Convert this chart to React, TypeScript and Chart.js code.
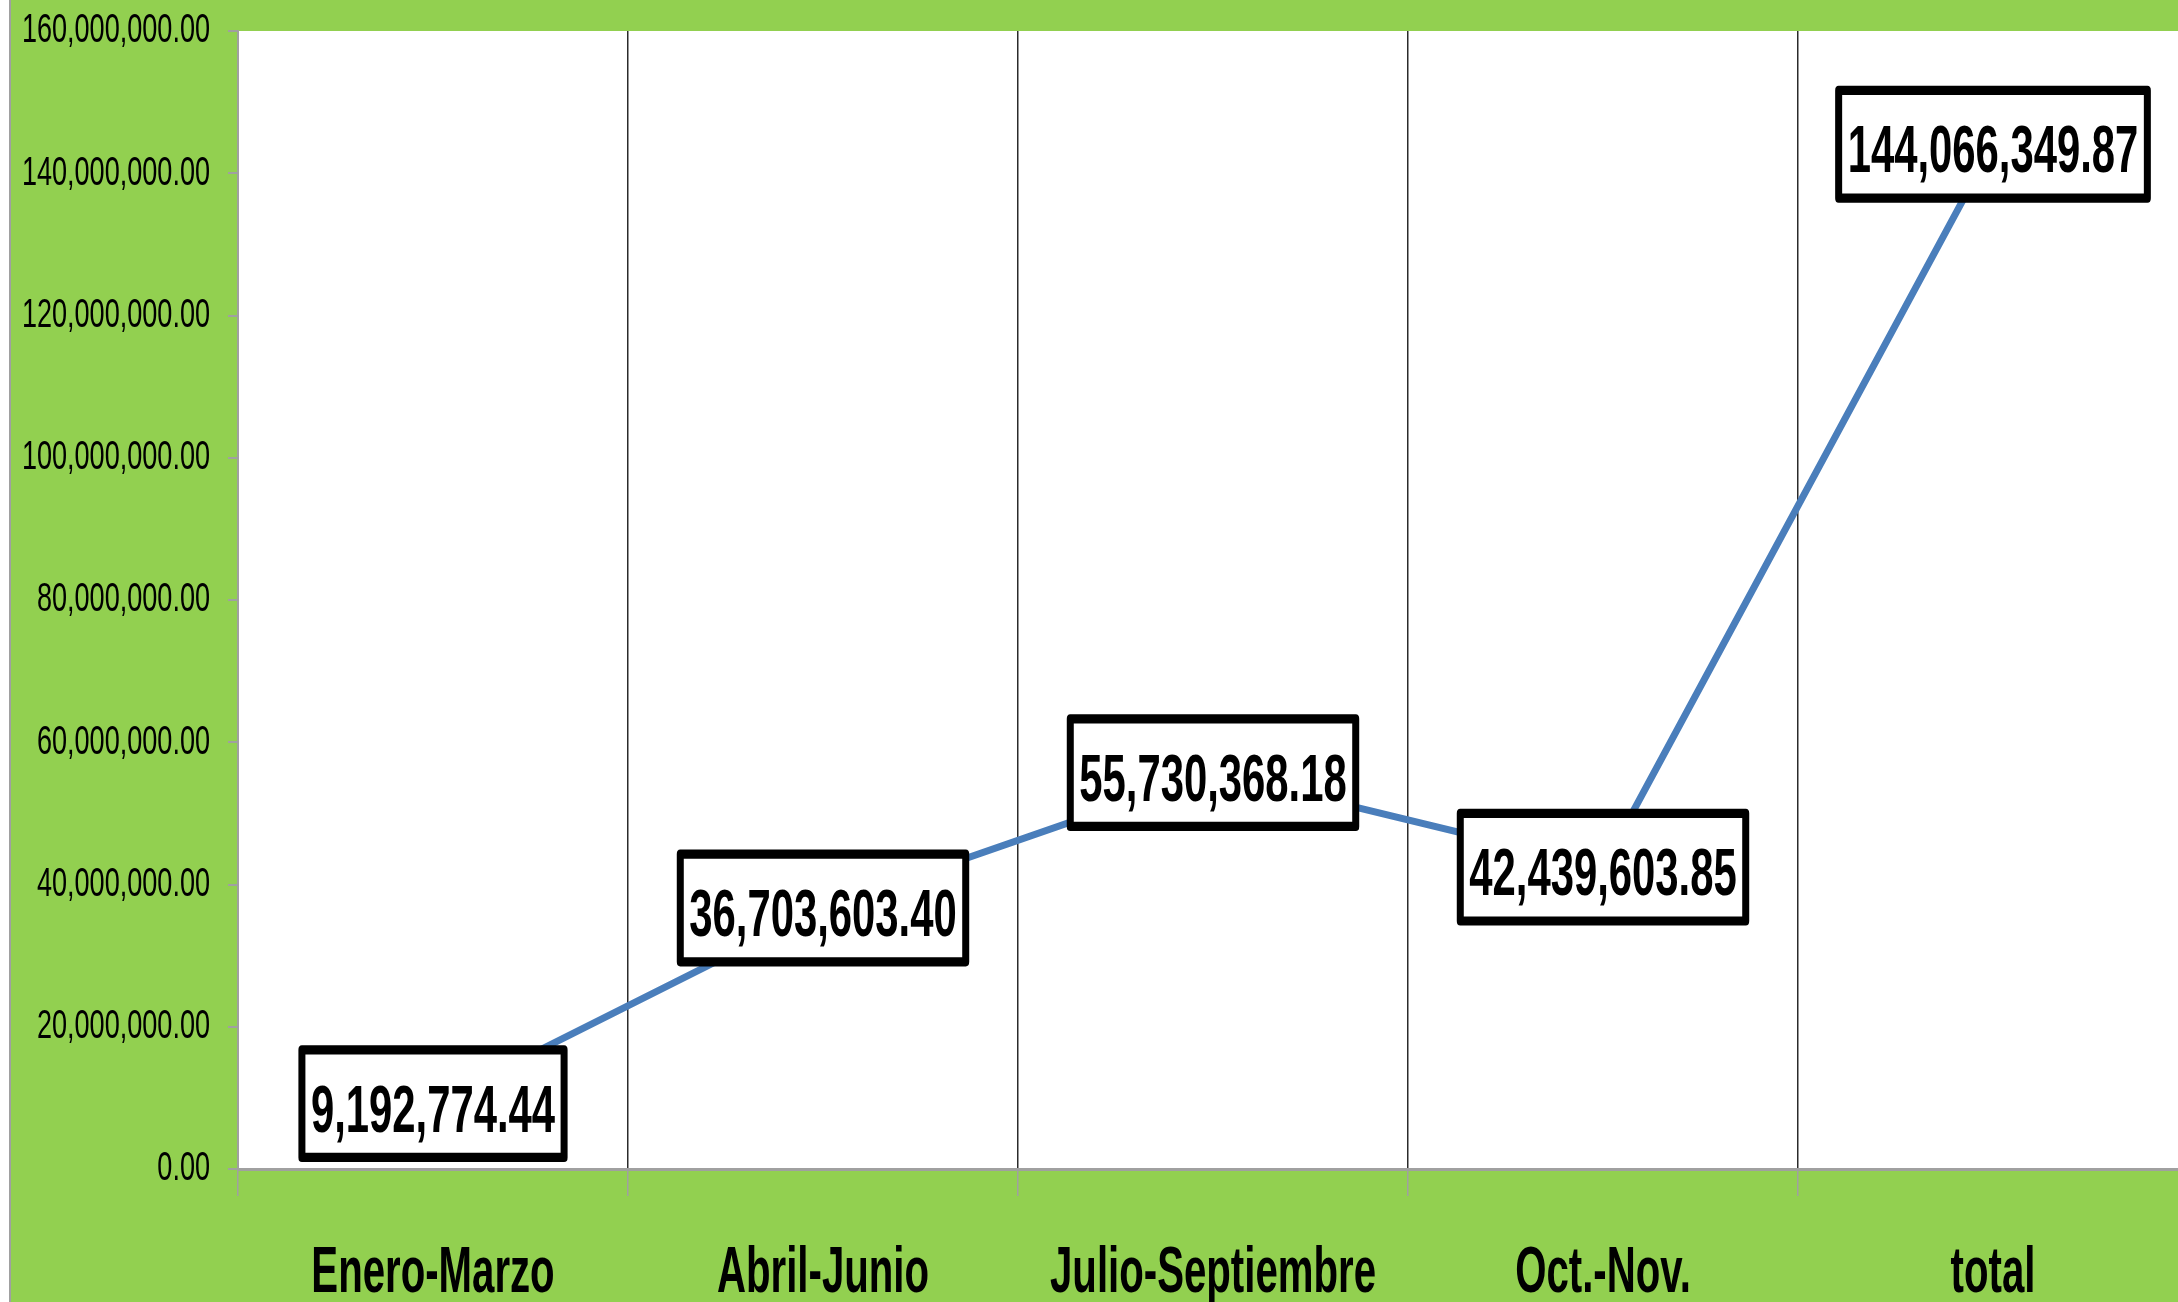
import React, { useEffect, useRef } from 'react';
import { Chart, registerables } from 'chart.js';

Chart.register(...registerables);

const categories = ['Enero-Marzo', 'Abril-Junio', 'Julio-Septiembre', 'Oct.-Nov.', 'total'];
const values = [9192774.44, 36703603.4, 55730368.18, 42439603.85, 144066349.87];
const dataLabels = ['9,192,774.44', '36,703,603.40', '55,730,368.18', '42,439,603.85', '144,066,349.87'];
const yMin = 0;
const yMax = 160000000;
const yStep = 20000000;

const FONT = "'Liberation Sans', Arial, sans-serif";
const NARROW = 0.82;
const GREEN = '#92D050';
const LINE_BLUE = '#4A7EBB';

const fmt = (v: number) =>
  v.toLocaleString('en-US', { minimumFractionDigits: 2, maximumFractionDigits: 2 });

const textPlugin = {
  id: 'stretchedText',
  beforeDraw(chart: any) {
    const { ctx, chartArea: a } = chart;
    ctx.save();
    ctx.fillStyle = '#ffffff';
    ctx.fillRect(a.left, a.top, a.right - a.left, a.bottom - a.top);
    ctx.restore();
  },
  afterDraw(chart: any) {
    const ctx = chart.ctx;
    const xs = chart.scales.x;
    const ys = chart.scales.y;
    ctx.save();
    ctx.fillStyle = '#000';
    // y tick labels
    ctx.font = `33px ${FONT}`;
    ctx.textAlign = 'right';
    ctx.textBaseline = 'middle';
    ys.ticks.forEach((t: any) => {
      const py = ys.getPixelForValue(t.value);
      ctx.save();
      ctx.translate(ys.right - 28, py);
      ctx.scale(NARROW, 1.25);
      ctx.fillText(fmt(t.value), 0, 0);
      ctx.restore();
    });
    // x tick labels
    ctx.font = `bold 49px ${FONT}`;
    ctx.textAlign = 'center';
    ctx.textBaseline = 'alphabetic';
    categories.forEach((c, i) => {
      const px = xs.getPixelForValue(i);
      ctx.save();
      ctx.translate(px, xs.top + 123);
      ctx.scale(NARROW, 1.34);
      ctx.fillText(c, 0, 0);
      ctx.restore();
    });
    // data labels
    const meta = chart.getDatasetMeta(0);
    const fs = 51;
    const k = 1.32;
    ctx.font = `bold ${fs}px ${FONT}`;
    meta.data.forEach((pt: any, i: number) => {
      const label = dataLabels[i];
      const tw = ctx.measureText(label).width * NARROW;
      const rw = tw + 18;
      const rh = 81.6;
      ctx.save();
      ctx.translate(pt.x, pt.y);
      ctx.scale(1, k);
      ctx.fillStyle = '#fff';
      ctx.fillRect(-rw / 2, -rh / 2, rw, rh);
      ctx.lineWidth = 7;
      ctx.strokeStyle = '#000';
      ctx.lineJoin = 'round';
      ctx.strokeRect(-rw / 2, -rh / 2, rw, rh);
      ctx.scale(NARROW, 1);
      ctx.fillStyle = '#000';
      ctx.textAlign = 'center';
      ctx.textBaseline = 'alphabetic';
      ctx.fillText(label, 0, fs * 0.358 + 3);
      ctx.restore();
    });
    ctx.restore();
  },
};

export default function App() {
  const ref = useRef<HTMLCanvasElement | null>(null);
  useEffect(() => {
    if (!ref.current) return;
    const chart = new Chart(ref.current, {
      type: 'line',
      data: {
        labels: categories,
        datasets: [
          {
            data: values,
            borderColor: LINE_BLUE,
            borderWidth: 7,
            pointRadius: 0,
            tension: 0,
            fill: false,
          },
        ],
      },
      options: {
        responsive: false,
        animation: false,
        devicePixelRatio: 1,
        layout: { padding: { left: 0, top: 31, right: 12, bottom: 0 } },
        plugins: {
          legend: { display: false },
          tooltip: { enabled: false },
          title: { display: false },
        },
        scales: {
          x: {
            type: 'category',
            offset: true,
            grid: {
              offset: true,
              display: true,
              drawOnChartArea: true,
              drawTicks: true,
              color: '#2b2b2b',
              lineWidth: 1.5,
              tickColor: '#a0a0a0',
              tickLength: 27,
            },
            border: { display: true, color: '#a0a0a0', width: 3 },
            ticks: { color: 'rgba(0,0,0,0)', font: { size: 20 }, autoSkip: false, maxRotation: 0 },
            afterFit(scale: any) {
              scale.height = 133;
            },
          },
          y: {
            min: yMin,
            max: yMax,
            ticks: {
              stepSize: yStep,
              color: 'rgba(0,0,0,0)',
              font: { size: 20 },
              callback: (v: any) => fmt(Number(v)),
            },
            grid: {
              drawOnChartArea: false,
              drawTicks: true,
              tickLength: 10,
              tickColor: '#a0a0a0',
              lineWidth: 2,
            },
            border: { display: true, color: '#a0a0a0', width: 2 },
            afterFit(scale: any) {
              scale.width = 227;
            },
          },
        },
      },
      plugins: [textPlugin],
    } as any);
    return () => chart.destroy();
  }, []);

  return (
    <div
      style={{
        position: 'fixed',
        left: 0,
        top: 0,
        width: 2178,
        height: 1302,
        overflow: 'hidden',
        background: '#ffffff',
      }}
    >
      <div
        style={{
          position: 'absolute',
          left: 9,
          top: 0,
          width: 2300,
          height: 1302,
          background: GREEN,
          borderLeft: '2px solid #a0a0a0',
        }}
      >
        <canvas ref={ref} width={2189} height={1302} style={{ display: 'block' }} />
      </div>
    </div>
  );
}
